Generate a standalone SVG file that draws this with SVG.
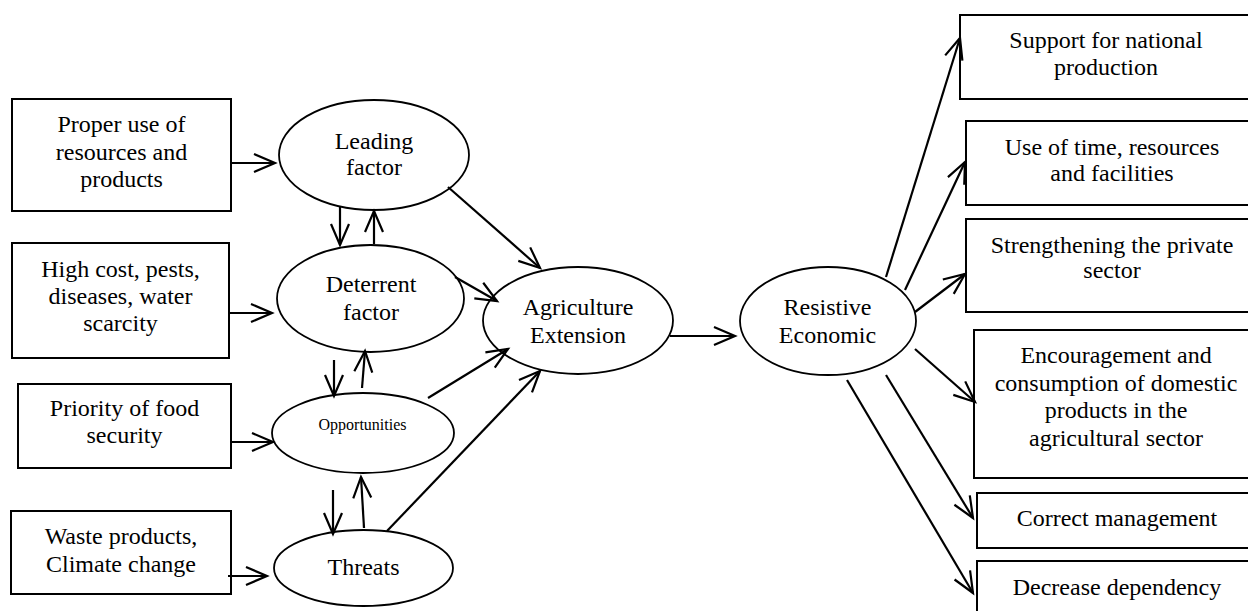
<svg xmlns="http://www.w3.org/2000/svg" width="1248" height="611" viewBox="0 0 1248 611">
<style>
.box{fill:#fff;stroke:#000;stroke-width:2}
.ell{fill:#fff;stroke:#000;stroke-width:1.8}
.t{font-family:"Liberation Serif","Times New Roman",serif;font-size:24px;fill:#000;text-anchor:middle}
.s{font-size:16px}
.c{stroke:#000;stroke-width:2.2;fill:none;marker-end:url(#ah)}
.n{stroke:#000;stroke-width:2.2;fill:none}
</style>
<defs>
<marker id="ah" markerUnits="userSpaceOnUse" markerWidth="30" markerHeight="30" refX="0" refY="0" viewBox="-25 -15 30 30" orient="auto" overflow="visible">
<path d="M-21,-9 L0,0 L-21,9" fill="none" stroke="#000" stroke-width="2.2"/>
</marker>
</defs>
<rect width="1248" height="611" fill="#fff"/>

<g id="box-proper-use">
<rect class="box" x="12" y="99" width="219" height="112"/>
<text class="t" x="121.5" y="132">Proper use of</text>
<text class="t" x="121.5" y="159.5">resources and</text>
<text class="t" x="121.5" y="187">products</text>
</g>
<g id="box-high-cost">
<rect class="box" x="12" y="243" width="217" height="115"/>
<text class="t" x="120.5" y="276.5">High cost, pests,</text>
<text class="t" x="120.5" y="304">diseases, water</text>
<text class="t" x="120.5" y="331">scarcity</text>
</g>
<g id="box-priority">
<rect class="box" x="18" y="384" width="213" height="84"/>
<text class="t" x="124.5" y="416">Priority of food</text>
<text class="t" x="124.5" y="443">security</text>
</g>
<g id="box-waste">
<rect class="box" x="11" y="511" width="220" height="83"/>
<text class="t" x="121" y="544">Waste products,</text>
<text class="t" x="121" y="571.5">Climate change</text>
</g>

<g id="leading-factor">
<ellipse class="ell" cx="374" cy="155" rx="95" ry="55"/>
<text class="t" x="374" y="149">Leading</text>
<text class="t" x="374" y="175">factor</text>
</g>
<g id="deterrent-factor">
<ellipse class="ell" cx="370.5" cy="298.5" rx="93.5" ry="53.5"/>
<text class="t" x="371" y="291.5">Deterrent</text>
<text class="t" x="371" y="319.5">factor</text>
</g>
<g id="opportunities">
<ellipse class="ell" cx="363" cy="433" rx="91" ry="40"/>
<text class="t s" x="362.5" y="430">Opportunities</text>
</g>
<g id="threats">
<ellipse class="ell" cx="363.5" cy="568" rx="89.5" ry="38"/>
<text class="t" x="363.5" y="575">Threats</text>
</g>
<g id="agriculture-extension">
<ellipse class="ell" cx="578" cy="320.5" rx="95" ry="53.5"/>
<text class="t" x="578" y="315">Agriculture</text>
<text class="t" x="578" y="343">Extension</text>
</g>
<g id="resistive-economic">
<ellipse class="ell" cx="828" cy="321" rx="88" ry="54"/>
<text class="t" x="827.5" y="315">Resistive</text>
<text class="t" x="827.5" y="343">Economic</text>
</g>

<g id="box-support">
<rect class="box" x="960" y="15" width="296" height="84"/>
<text class="t" x="1106" y="48">Support for national</text>
<text class="t" x="1106" y="74.5">production</text>
</g>
<g id="box-use-of-time">
<rect class="box" x="966" y="121" width="290" height="84"/>
<text class="t" x="1112" y="154.5">Use of time, resources</text>
<text class="t" x="1112" y="181">and facilities</text>
</g>
<g id="box-strengthening">
<rect class="box" x="966" y="219" width="290" height="93"/>
<text class="t" x="1112" y="253">Strengthening the private</text>
<text class="t" x="1112" y="278">sector</text>
</g>
<g id="box-encouragement">
<rect class="box" x="974" y="330" width="284" height="148"/>
<text class="t" x="1116" y="363">Encouragement and</text>
<text class="t" x="1116" y="390.5">consumption of domestic</text>
<text class="t" x="1116" y="417.5">products in the</text>
<text class="t" x="1116" y="445.5">agricultural sector</text>
</g>
<g id="box-correct-management">
<rect class="box" x="977" y="493" width="280" height="55"/>
<text class="t" x="1117" y="526">Correct management</text>
</g>
<g id="box-decrease-dependency">
<rect class="box" x="977" y="561" width="280" height="60"/>
<text class="t" x="1117" y="595">Decrease dependency</text>
</g>

<g id="connectors">
<line class="c" x1="231" y1="163" x2="275" y2="163"/>
<line class="c" x1="229" y1="313" x2="272" y2="313"/>
<line class="c" x1="231" y1="442" x2="273" y2="442"/>
<line class="c" x1="228" y1="576" x2="267" y2="576"/>

<line class="c" x1="340" y1="207" x2="340" y2="245"/>
<line class="c" x1="374" y1="244" x2="374" y2="211"/>
<line class="c" x1="334" y1="360" x2="334" y2="396"/>
<line class="c" x1="362" y1="388" x2="365" y2="351"/>
<line class="c" x1="333" y1="490" x2="333" y2="534"/>
<line class="c" x1="364" y1="528" x2="361" y2="477"/>

<line class="c" x1="448" y1="187" x2="540" y2="268"/>
<line class="c" x1="455" y1="277" x2="497" y2="301"/>
<line class="c" x1="428" y1="398" x2="508" y2="349"/>
<line class="c" x1="387" y1="531" x2="540" y2="371"/>

<line class="c" x1="670" y1="336" x2="735" y2="336"/>

<line class="c" x1="886" y1="277" x2="960" y2="38"/>
<line class="c" x1="905" y1="290" x2="965" y2="162"/>
<line class="c" x1="915" y1="312" x2="965" y2="274"/>
<line class="c" x1="915" y1="349" x2="975" y2="402"/>
<line class="c" x1="886" y1="375" x2="973" y2="518"/>
<line class="c" x1="847" y1="380" x2="973" y2="593"/>
</g>
</svg>
